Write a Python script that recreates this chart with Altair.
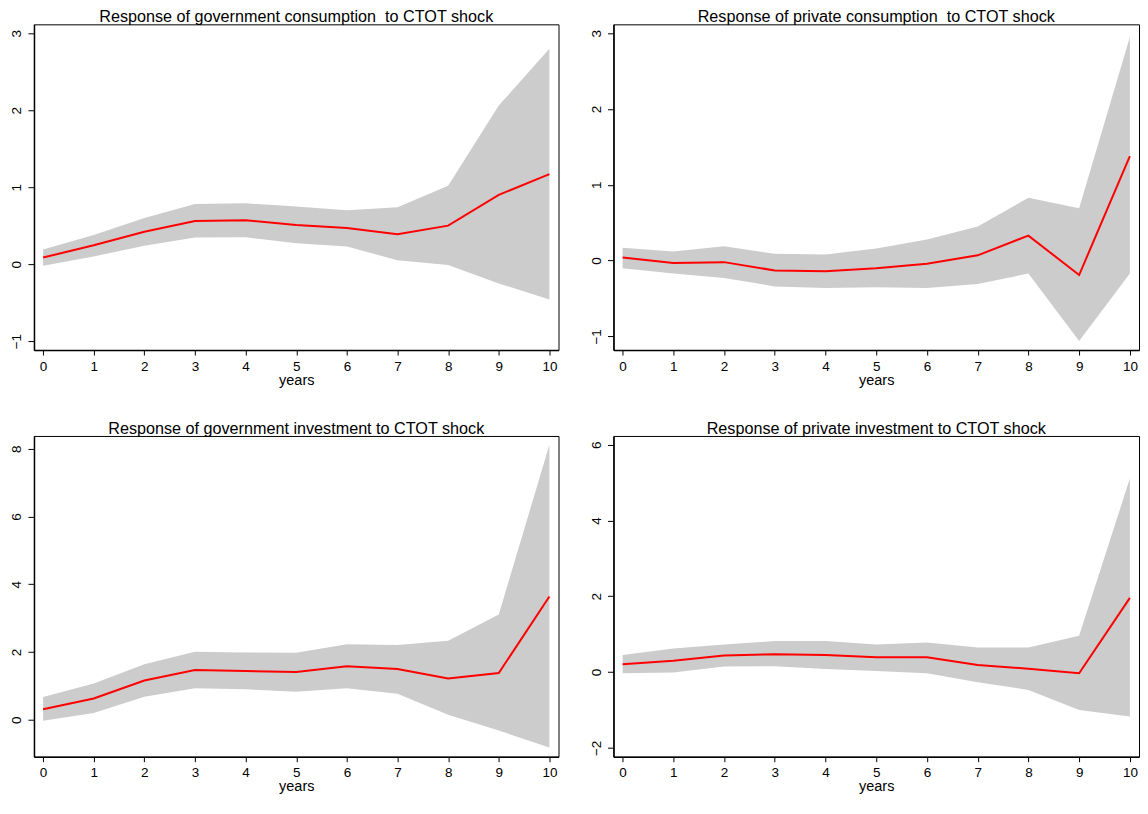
import altair as alt
import pandas as pd

years = list(range(11))

gc_irf = [0.086, 0.245, 0.42, 0.56, 0.57, 0.51, 0.47, 0.39, 0.50, 0.90, 1.17]
gc_up = [0.19, 0.38, 0.60, 0.78, 0.79, 0.75, 0.70, 0.74, 1.02, 2.06, 2.80]
gc_lo = [-0.02, 0.10, 0.24, 0.345, 0.35, 0.27, 0.23, 0.05, -0.01, -0.25, -0.46]

pc_irf = [0.04, -0.03, -0.02, -0.13, -0.14, -0.10, -0.04, 0.07, 0.33, -0.19, 1.38]
pc_up = [0.17, 0.12, 0.19, 0.09, 0.08, 0.16, 0.28, 0.45, 0.83, 0.69, 2.95]
pc_lo = [-0.10, -0.17, -0.23, -0.34, -0.36, -0.35, -0.36, -0.31, -0.17, -1.06, -0.17]

gi_irf = [0.31, 0.63, 1.16, 1.47, 1.44, 1.41, 1.58, 1.50, 1.22, 1.38, 3.64]
gi_up = [0.67, 1.07, 1.64, 2.01, 1.99, 1.98, 2.23, 2.21, 2.33, 3.11, 8.12]
gi_lo = [-0.03, 0.20, 0.68, 0.93, 0.90, 0.83, 0.93, 0.77, 0.15, -0.32, -0.82]

pi_irf = [0.21, 0.30, 0.44, 0.47, 0.45, 0.39, 0.39, 0.19, 0.09, -0.03, 1.96]
pi_up = [0.45, 0.62, 0.73, 0.82, 0.82, 0.73, 0.78, 0.65, 0.65, 0.96, 5.11]
pi_lo = [-0.03, -0.01, 0.15, 0.155, 0.08, 0.03, -0.03, -0.27, -0.47, -1.00, -1.17]

titles = [
    "Response of government consumption \u00a0to CTOT shock",
    "Response of private consumption \u00a0to CTOT shock",
    "Response of government investment to CTOT shock",
    "Response of private investment to CTOT shock",
]
y_domains = [[-1.116, 3.116], [-1.18, 3.118], [-1.09, 8.38], [-2.233, 6.233]]
y_ticks = [[-1, 0, 1, 2, 3], [-1, 0, 1, 2, 3], [0, 2, 4, 6, 8], [-2, 0, 2, 4, 6]]

FONT = "Liberation Sans"


def panel(title, irf, lo, hi, ydom, yt, w, h):
    df = pd.DataFrame({"year": years, "irf": irf, "lo": lo, "hi": hi})
    xscale = alt.Scale(domain=[-0.18, 10.18], nice=False, zero=False)
    yscale = alt.Scale(domain=ydom, nice=False, zero=False)
    xaxis = alt.Axis(values=years, title="years", format="d")
    yaxis = alt.Axis(values=yt, title=None, format="d")
    band = alt.Chart(df).mark_area(color="#cccccc", opacity=1).encode(
        x=alt.X("year:Q", scale=xscale, axis=xaxis),
        y=alt.Y("lo:Q", scale=yscale, axis=yaxis),
        y2="hi:Q",
    )
    line = alt.Chart(df).mark_line(color="#ff0000", strokeWidth=2).encode(
        x=alt.X("year:Q", scale=xscale, axis=xaxis),
        y=alt.Y("irf:Q", scale=yscale, axis=yaxis),
    )
    return alt.layer(band, line).properties(
        width=w,
        height=h,
        title=alt.TitleParams(
            title, anchor="middle", fontSize=16.2, font=FONT, fontWeight="normal",
            color="#000000", offset=-1, frame="group",
        ),
    )


p1 = panel(titles[0], gc_irf, gc_lo, gc_up, y_domains[0], y_ticks[0], 525, 326)
p2 = panel(titles[1], pc_irf, pc_lo, pc_up, y_domains[1], y_ticks[1], 526, 326)
p3 = panel(titles[2], gi_irf, gi_lo, gi_up, y_domains[2], y_ticks[2], 525, 321)
p4 = panel(titles[3], pi_irf, pi_lo, pi_up, y_domains[3], y_ticks[3], 526, 321)

chart = alt.vconcat(
    alt.hconcat(p1, p2, spacing=28),
    alt.hconcat(p3, p4, spacing=28),
    spacing=33,
).properties(
    padding={"top": 0, "left": 0, "right": 0, "bottom": 0}, background="white"
).configure_view(
    stroke="#000000", strokeWidth=1
).configure_axis(
    domain=True, domainColor="#000000", domainWidth=1.5,
    ticks=True, tickColor="#000000", tickWidth=1,
    grid=False, labelFont=FONT, labelFontSize=13.5, labelColor="#000000",
    titleFont=FONT, titleFontSize=14.5, titleFontWeight="normal", titleColor="#000000",
).configure_axisX(
    tickSize=5, labelPadding=4, titlePadding=0.5, labelFlush=False,
).configure_axisY(
    tickSize=6, labelAngle=270, labelAlign="center", labelBaseline="bottom", labelPadding=4,
    minExtent=25, maxExtent=25,
)

chart.save("out.html", embed_options={"renderer": "svg", "actions": False})
